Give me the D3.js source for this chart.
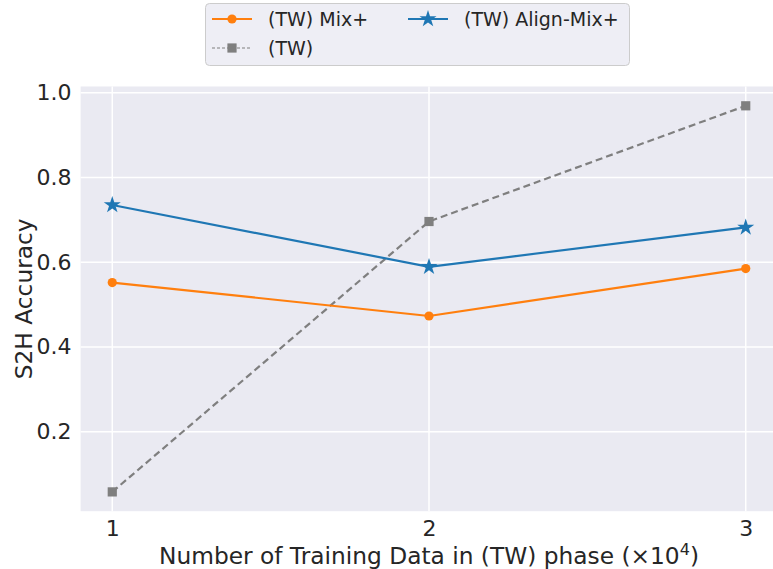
<!DOCTYPE html>
<html>
<head>
<meta charset="utf-8">
<script src="https://cdn.jsdelivr.net/npm/d3@7"></script>
<style>
  body { margin: 0; background: #fff; }
  text { font-family: "DejaVu Sans", sans-serif; fill: #262626; }
</style>
</head>
<body>
<div id="chart"></div>
<script>
// data
const xValues = [1, 2, 3];
const mixPlus = [0.552, 0.473, 0.585];
const alignMixPlus = [0.735, 0.589, 0.682];
const twOnly = [0.058, 0.696, 0.969];
const yTicks = [0.2, 0.4, 0.6, 0.8, 1.0];
const seriesNames = ["(TW) Mix+", "(TW)", "(TW) Align-Mix+"];

const W = 773, H = 569;

const svg = d3.select("#chart")
  .append("svg")
  .attr("width", W)
  .attr("height", H);

// scales, with matplotlib style 5% padding
const x = d3.scaleLinear()
  .domain([0.9, 3.1])
  .range([80.6, 777.4]);

const all = mixPlus.concat(alignMixPlus, twOnly);
const lo = d3.min(all), hi = d3.max(all), pad = (hi - lo) * 0.05;
const y = d3.scaleLinear()
  .domain([lo - pad, hi + pad])
  .range([511.2, 86.5]);

// plot background
svg.append("rect")
  .attr("x", x(0.9))
  .attr("y", y(hi + pad))
  .attr("width", x(3.1) - x(0.9))
  .attr("height", y(lo - pad) - y(hi + pad))
  .attr("fill", "#eaeaf2");

// grid
svg.append("g")
  .selectAll("line.h")
  .data(yTicks)
  .join("line")
  .attr("x1", x(0.9)).attr("x2", x(3.1))
  .attr("y1", d => y(d)).attr("y2", d => y(d))
  .attr("stroke", "#fff").attr("stroke-width", 1.5);

svg.append("g")
  .selectAll("line.v")
  .data(xValues)
  .join("line")
  .attr("x1", d => x(d)).attr("x2", d => x(d))
  .attr("y1", y(hi + pad)).attr("y2", y(lo - pad))
  .attr("stroke", "#fff").attr("stroke-width", 1.5);

// axes (labels only, like seaborn darkgrid)
const yAxis = svg.append("g")
  .attr("transform", `translate(${x(0.9)},0)`)
  .call(d3.axisLeft(y).tickValues(yTicks).tickFormat(d3.format(".1f")).tickSize(0).tickPadding(9));
yAxis.select(".domain").remove();
yAxis.selectAll("text").style("font-size", "22px").attr("fill", "#262626");

const xAxis = svg.append("g")
  .attr("transform", `translate(0,${y(lo - pad)})`)
  .call(d3.axisBottom(x).tickValues(xValues).tickFormat(d3.format("d")).tickSize(0).tickPadding(9));
xAxis.select(".domain").remove();
xAxis.selectAll("text").style("font-size", "22px").attr("fill", "#262626");

// axis titles
svg.append("text")
  .attr("transform", `translate(31.5,${(y(hi + pad) + y(lo - pad)) / 2}) rotate(-90)`)
  .attr("text-anchor", "middle")
  .style("font-size", "23.3px")
  .text("S2H Accuracy");

const xl = svg.append("text")
  .attr("x", (x(0.9) + x(3.1)) / 2)
  .attr("y", 564)
  .attr("text-anchor", "middle")
  .style("font-size", "23.3px");
xl.append("tspan").text("Number of Training Data in (TW) phase (×10");
xl.append("tspan").attr("dy", -9).style("font-size", "16px").text("4");
xl.append("tspan").attr("dy", 9).text(")");

// lines
const line = d3.line().x((d, i) => x(xValues[i])).y(d => y(d));

function starPath(r) {
  return d3.symbol().type(d3.symbolStar).size(r)();
}

const series = [
  {vals: twOnly, color: "#7f7f7f", dash: "7,4", width: 2.2, marker: "square"},
  {vals: mixPlus, color: "#ff7f0e", dash: null, width: 2.2, marker: "circle"},
  {vals: alignMixPlus, color: "#1f77b4", dash: null, width: 2.2, marker: "star"}
];

function drawMarker(g, type, color) {
  if (type === "circle") {
    g.append("circle").attr("r", 4.6).attr("fill", color);
  } else if (type === "square") {
    g.append("rect").attr("x", -4.6).attr("y", -4.6).attr("width", 9.2).attr("height", 9.2).attr("fill", color);
  } else {
    g.append("path").attr("d", starPath(90)).attr("fill", color);
  }
}

series.forEach(s => {
  svg.append("path")
    .datum(s.vals)
    .attr("d", line)
    .attr("fill", "none")
    .attr("stroke", s.color)
    .attr("stroke-width", s.width)
    .attr("stroke-dasharray", s.dash);
  s.vals.forEach((v, i) => {
    const g = svg.append("g").attr("transform", `translate(${x(xValues[i])},${y(v)})`);
    drawMarker(g, s.marker, s.color);
  });
});

// legend
const legend = svg.append("g");
legend.append("rect")
  .attr("x", 205.5).attr("y", 3.5)
  .attr("width", 424).attr("height", 62)
  .attr("rx", 4)
  .attr("fill", "#eaeaf2").attr("fill-opacity", 0.8)
  .attr("stroke", "#cccccc").attr("stroke-width", 1);

const legendItems = [
  {name: seriesNames[0], color: "#ff7f0e", dash: null, w: 2.2, marker: "circle", lx: 212, ly: 19},
  {name: seriesNames[1], color: "#7f7f7f", dash: "3,2", w: 1.2, marker: "square", lx: 212, ly: 48},
  {name: seriesNames[2], color: "#1f77b4", dash: null, w: 2.2, marker: "star", lx: 408, ly: 19}
];

legendItems.forEach(it => {
  legend.append("line")
    .attr("x1", it.lx).attr("x2", it.lx + 40)
    .attr("y1", it.ly).attr("y2", it.ly)
    .attr("stroke", it.color)
    .attr("stroke-width", it.w)
    .attr("stroke-dasharray", it.dash);
  const g = legend.append("g").attr("transform", `translate(${it.lx + 20},${it.ly})`);
  drawMarker(g, it.marker, it.color);
  legend.append("text")
    .attr("x", it.lx + 56).attr("y", it.ly)
    .attr("dy", "0.36em")
    .style("font-size", "19px")
    .text(it.name);
});
</script>
</body>
</html>
